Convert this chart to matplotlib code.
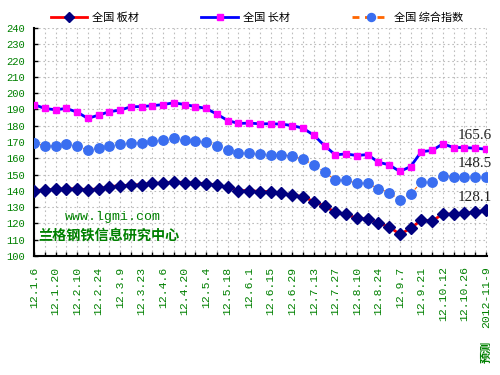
import matplotlib
matplotlib.use("Agg")
import matplotlib.pyplot as plt
from matplotlib import transforms

plt.rcParams['font.family'] = ['Noto Sans CJK SC', 'DejaVu Sans']

dates = ["12.1.6", "12.1.13", "12.1.20", "12.2.3", "12.2.10", "12.2.17", "12.2.24",
         "12.3.2", "12.3.9", "12.3.16", "12.3.23", "12.3.30", "12.4.6", "12.4.13",
         "12.4.20", "12.4.27", "12.5.4", "12.5.11", "12.5.18", "12.5.25", "12.6.1",
         "12.6.8", "12.6.15", "12.6.22", "12.6.29", "12.7.6", "12.7.13", "12.7.20",
         "12.7.27", "12.8.3", "12.8.10", "12.8.17", "12.8.24", "12.8.31", "12.9.7",
         "12.9.14", "12.9.21", "12.9.28", "12.10.12", "12.10.19", "12.10.26",
         "12.11.2", "2012-11-9"]

plate = [140.2, 140.6, 141.0, 141.4, 141.2, 140.8, 141.2, 142.6, 143.2, 143.5,
         143.9, 144.7, 144.7, 145.5, 145.1, 144.7, 144.5, 143.5, 142.2, 140.2,
         140.2, 139.6, 139.6, 138.5, 137.5, 136.5, 133.4, 130.7, 126.9, 125.6,
         123.2, 122.8, 120.1, 118.0, 113.3, 117.0, 122.1, 121.5, 125.8, 125.8,
         126.2, 127.1, 128.1]

long_steel = [193.0, 190.6, 189.8, 190.6, 188.4, 184.5, 186.5, 188.6, 189.6, 191.6,
              191.8, 192.3, 193.0, 194.1, 193.0, 191.8, 190.6, 187.1, 183.2, 181.4,
              181.6, 181.2, 181.2, 181.0, 180.1, 178.5, 174.2, 167.8, 162.1, 162.7,
              161.7, 162.3, 157.6, 156.0, 151.9, 154.9, 164.1, 164.8, 168.9, 166.6,
              166.6, 166.2, 165.6]

composite = [169.1, 167.8, 167.5, 168.5, 167.7, 165.0, 166.2, 167.8, 168.5, 169.7,
             169.7, 170.5, 171.3, 172.6, 171.3, 170.9, 169.9, 167.7, 164.8, 163.2,
             163.0, 162.5, 162.3, 162.3, 161.3, 159.5, 156.0, 151.5, 146.7, 146.5,
             144.7, 144.7, 141.4, 138.9, 134.6, 138.1, 145.3, 145.3, 149.4, 148.8,
             148.8, 148.7, 148.5]

legend_labels = ["全国 板材", "全国 长材", "全国 综合指数"]
yticks = list(range(100, 241, 10))
watermark_url = "www.lgmi.com"
watermark_name = "兰格钢铁信息研究中心"
forecast_label = "预测"

green = "#008000"
x = list(range(len(dates)))

fig = plt.figure(figsize=(5, 3.75), dpi=100)
ax = fig.add_axes([0.068, 0.3173, 0.906, 0.608])

ax.plot(x, composite, color="#FF6600", lw=0.8, ls=(0, (3, 2)), marker="o",
        ms=6.8, mfc="#3A6EF0", mec="#3A6EF0", zorder=3, label=legend_labels[2])
ax.plot(x, long_steel, color="#0000FF", lw=2, marker="s", ms=5,
        mfc="#FF00FF", mec="#FF00FF", zorder=4, label=legend_labels[1])
ax.plot(x, plate, color="#FF0000", lw=2, marker="D", ms=5.8,
        mfc="#000080", mec="#000080", zorder=5, label=legend_labels[0])

ax.set_xlim(0, len(dates) - 1 + 0.1)
ax.set_ylim(100, 240)
ax.set_yticks(yticks)
ax.set_yticklabels([str(v) for v in yticks], family="Liberation Mono",
                   fontsize=7.6, color=green)
ax.set_xticks(x)
ax.set_xticklabels([d if i % 2 == 0 else "" for i, d in enumerate(dates)],
                   rotation=90, family="Liberation Mono", fontsize=8.2, color=green)
ax.tick_params(axis="both", direction="in", length=3, width=1, color="black")
ax.tick_params(axis="y", pad=6.5)
ax.tick_params(axis="x", pad=7.5)

for s in ["top", "right"]:
    ax.spines[s].set_visible(False)
for s in ["left", "bottom"]:
    ax.spines[s].set_linewidth(1.5)

ax.grid(True, color="#BDBDBD", ls=(0, (1.5, 2.5)), lw=0.8)
ax.set_axisbelow(True)

# value annotations at last point
for series in (long_steel, composite, plate):
    ax.annotate(f"{series[-1]:.1f}", xy=(x[-1], series[-1]), xytext=(-8, 9.5),
                textcoords="offset points", ha="center", va="center",
                family="Liberation Serif", fontsize=11, color="#222222", zorder=6)

# watermark
ax.text(0.068, 0.171, watermark_url, transform=ax.transAxes, ha="left", va="center",
        family="Liberation Mono", fontsize=9.5, color=green)
ax.text(0.009, 0.088, watermark_name, transform=ax.transAxes, ha="left", va="center",
        fontsize=10.2, fontweight="bold", color=green)

# forecast label under last tick
trans = transforms.blended_transform_factory(ax.transData, fig.transFigure)
ax.text(x[-1], 0.062, forecast_label, transform=trans, rotation=90, ha="center",
        va="center", fontsize=8, fontweight="bold", color=green)

h, l = ax.get_legend_handles_labels()
order = [2, 1, 0]
leg = ax.legend([h[i] for i in order], [l[i] for i in order], ncol=3,
                loc="center", bbox_to_anchor=(0.492, 1.044), frameon=False,
                fontsize=8, handlelength=3.3, handletextpad=0.45,
                columnspacing=5.6, borderaxespad=0, markerscale=0.85)
leg_lines = leg.get_lines()
leg_lines[2].set_linewidth(2)
leg_lines[2].set_linestyle((0, (2.5, 2)))

fig.savefig("out.png", dpi=100, facecolor="white")
